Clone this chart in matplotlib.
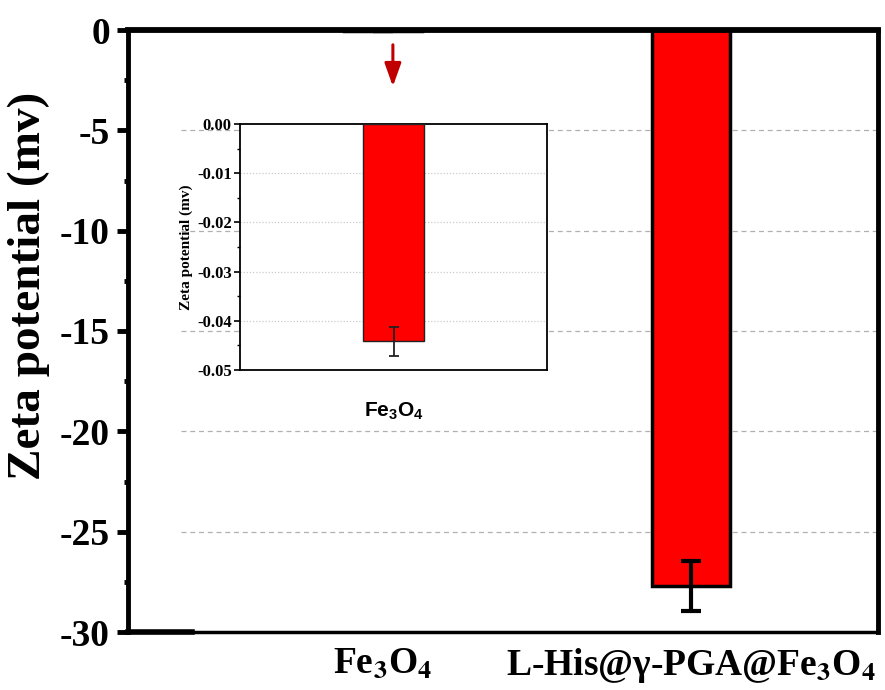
import matplotlib
matplotlib.use("Agg")
import matplotlib.pyplot as plt
import numpy as np

# ---- data ----
categories = [r"Fe$_\mathbf{3}$O$_\mathbf{4}$", r"L-His@γ-PGA@Fe$_\mathbf{3}$O$_\mathbf{4}$"]
zeta_values = [-0.0442, -27.7]
zeta_errors = [0.003, 1.25]
main_yticks = [0, -5, -10, -15, -20, -25, -30]

inset_category = [r"$\mathbf{Fe_3O_4}$"]
inset_values = [-0.0442]
inset_errors = [0.003]
inset_yticks = [0.00, -0.01, -0.02, -0.03, -0.04, -0.05]

plt.rcParams['font.family'] = ['Liberation Serif', 'DejaVu Serif']
plt.rcParams['font.weight'] = 'bold'
plt.rcParams['mathtext.fontset'] = 'custom'
plt.rcParams['mathtext.rm'] = 'Liberation Sans:bold'
plt.rcParams['mathtext.bf'] = 'Liberation Sans:bold'
plt.rcParams['mathtext.it'] = 'Liberation Sans:bold:italic'

fig = plt.figure(figsize=(8.85, 6.9), dpi=100)
ax = fig.add_axes([128/885, 1-632/690, 750/885, 602/690])

x = np.arange(1, len(categories)+1)
ax.bar(x, zeta_values, width=0.253, color='#ff0000', edgecolor='black', linewidth=2.5, zorder=3)
ax.errorbar(x, zeta_values, yerr=zeta_errors, fmt='none', ecolor='black',
            elinewidth=3, capsize=7.5, capthick=3, zorder=4)

ax.set_xlim(0.172, 2.607)
ax.set_ylim(-30, 0)
ax.set_yticks(main_yticks)
ax.set_yticklabels([f"{v:g}" for v in main_yticks])
ax.set_yticks(np.arange(-27.5, 0, 5), minor=True)
ax.tick_params(axis='y', which='major', direction='out', length=8, width=3.5, labelsize=27, pad=5)
ax.tick_params(axis='y', which='minor', direction='out', length=3, width=3.5)
ax.set_xticks(x)
ax.set_xticklabels(categories)
ax.tick_params(axis='x', which='both', length=0, labelsize=27, pad=10)
for t in ax.get_xticklabels():
    t.set_math_fontfamily('stix')
    t.set_fontweight('bold')
for side in ['left', 'right']:
    ax.spines[side].set_linewidth(3.5)
ax.spines['top'].set_linewidth(4.2)
ax.spines['top'].set_zorder(6)
ax.spines['bottom'].set_linewidth(2.5)
ax.plot([0, 0.085], [0, 0], transform=ax.transAxes, color='black', lw=4, clip_on=False, zorder=5)

for v in main_yticks[1:-1]:
    ax.axhline(v, xmin=0.07, xmax=1, color='#b0b0b0', lw=0.9, ls=(0, (4, 3)), zorder=1)

ax.set_ylabel("Zeta potential (mv)", fontsize=34, fontweight='bold')
ax.yaxis.set_label_coords(-0.104, 0.575)

# arrow pointing to the tiny Fe3O4 bar
ax.annotate("", xy=(x[0] + 0.032, -2.95), xytext=(x[0] + 0.032, -0.6),
            arrowprops=dict(arrowstyle='-|>,head_width=0.5,head_length=1.4',
                            color='#c00000', lw=2.2), zorder=6)

# ---- inset ----
ins = fig.add_axes([240/885, 1-370/690, 307/885, 246/690])
ins.set_facecolor('white')
ins.set_zorder(5)
xi = np.arange(1, len(inset_values)+1)
ins.bar(xi, inset_values, width=0.2, color='#ff0000', edgecolor='#222222', linewidth=1.0, zorder=3)
ins.errorbar(xi, inset_values, yerr=inset_errors, fmt='none', ecolor='#222222',
             elinewidth=1.3, capsize=3.5, capthick=1.3, zorder=4)
ins.set_xlim(0.5, 1.5)
ins.set_ylim(-0.05, 0)
ins.set_yticks(inset_yticks)
ins.set_yticklabels([f"{v:.2f}" for v in inset_yticks])
ins.set_yticks(np.arange(-0.045, 0, 0.01), minor=True)
ins.tick_params(axis='y', which='major', direction='out', length=4, width=1.2, labelsize=12, pad=2)
ins.tick_params(axis='y', which='minor', direction='out', length=2, width=1.0)
ins.set_xticks([])
for s in ins.spines.values():
    s.set_linewidth(1.3)
for v in inset_yticks[1:-1]:
    ins.axhline(v, color='#cccccc', lw=0.9, ls=(0, (1, 1.5)), zorder=1)
ins.set_ylabel("Zeta potential (mv)", fontsize=11, fontweight='bold', labelpad=3)
ins.set_xlabel(inset_category[0], fontsize=15, labelpad=22, math_fontfamily='custom')

fig.savefig("out.png", dpi=100)
